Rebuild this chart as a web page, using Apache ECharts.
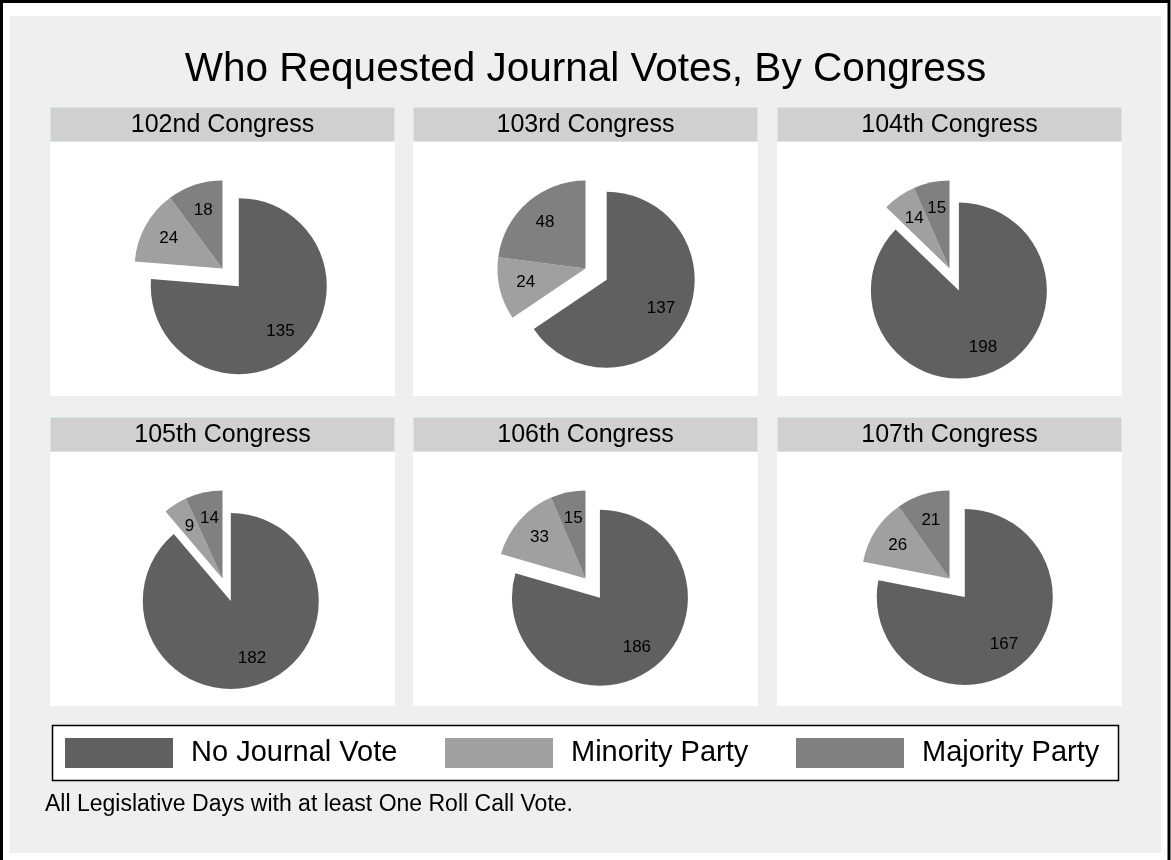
<!DOCTYPE html>
<html>
<head>
<meta charset="utf-8">
<script src="https://cdn.jsdelivr.net/npm/echarts@6/dist/echarts.min.js"></script>
<style>
  html, body { margin: 0; padding: 0; background: #fff; }
  #chart { width: 1171px; height: 860px; }
</style>
</head>
<body>
<div id="chart"></div>
<script>
// values, one entry per Congress
const congressNames = ['102nd Congress', '103rd Congress', '104th Congress', '105th Congress', '106th Congress', '107th Congress'];
const noJournalVote = [135, 137, 198, 182, 186, 167];
const minorityParty = [24, 24, 14, 9, 33, 26];
const majorityParty = [18, 48, 15, 14, 15, 21];
const sliceNames = ['No Journal Vote', 'Minority Party', 'Majority Party'];
const sliceColors = ['#606060', '#a0a0a0', '#808080'];

const FONT = '"Liberation Sans", Arial, Helvetica, sans-serif';

// panel grid
const panelLeft = [50, 413, 777];
const panelTop = [107, 417];
const panelW = 345;
const headH = 34;
const bodyH = 255;
const pieR = 88;

const chart = echarts.init(document.getElementById('chart'));

const graphics = [
    // outer frame + gray plot background
    { type: 'rect', z: 0, shape: { x: 1.5, y: 1.5, width: 1167.5, height: 900 }, style: { fill: '#fff', stroke: '#000', lineWidth: 3 } },
    { type: 'rect', z: 1, shape: { x: 10, y: 16, width: 1151, height: 837 }, style: { fill: '#efefef' } },
    {
        type: 'text', z: 5,
        style: { text: 'Who Requested Journal Votes, By Congress', x: 585.5, y: 70, textAlign: 'center', textVerticalAlign: 'middle', font: '40.5px ' + FONT, fill: '#000' },
    },
    // legend box
    { type: 'rect', z: 2, shape: { x: 52.5, y: 725.5, width: 1066, height: 55 }, style: { fill: '#fff', stroke: '#000', lineWidth: 1.5 } },
    {
        type: 'text', z: 5,
        style: { text: 'All Legislative Days with at least One Roll Call Vote.', x: 45, y: 805, textAlign: 'left', textVerticalAlign: 'middle', font: '23px ' + FONT, fill: '#000' },
    },
];

const series = [];

congressNames.forEach((name, i) => {
    const left = panelLeft[i % 3];
    const top = panelTop[Math.floor(i / 3)];
    graphics.push(
        { type: 'rect', z: 2, shape: { x: left, y: top + headH, width: panelW, height: bodyH }, style: { fill: '#fff' } },
        { type: 'rect', z: 2, shape: { x: left + 0.5, y: top + 0.5, width: panelW - 1, height: headH }, style: { fill: '#d0d0d0', stroke: '#d6e6ea', lineWidth: 1 } },
        {
            type: 'text', z: 5,
            style: { text: name, x: left + panelW / 2, y: top + headH / 2 + 1, textAlign: 'center', textVerticalAlign: 'middle', font: '25px ' + FONT, fill: '#000' },
        }
    );

    const values = [noJournalVote[i], minorityParty[i], majorityParty[i]];
    const center = [left + panelW / 2, top + headH + bodyH / 2];
    const pieData = values.map((v, k) => ({
        name: sliceNames[k],
        value: v,
        selected: k === 0, // "No Journal Vote" slice is pulled out
        itemStyle: { color: sliceColors[k] },
    }));

    // slices
    series.push({
        type: 'pie',
        center: center,
        radius: [0, pieR],
        startAngle: 90,
        clockwise: true,
        selectedMode: 'multiple',
        selectedOffset: 24,
        avoidLabelOverlap: false,
        label: { show: false },
        labelLine: { show: false },
        itemStyle: { borderWidth: 0 },
        emphasis: { disabled: true },
        data: pieData,
    });
    // transparent ring only to place the labels at ~2/3 of the radius
    series.push({
        type: 'pie',
        silent: true,
        center: center,
        radius: [29, pieR],
        startAngle: 90,
        clockwise: true,
        selectedMode: 'multiple',
        selectedOffset: 24,
        avoidLabelOverlap: false,
        label: {
            show: true,
            position: 'inside',
            formatter: '{c}',
            color: '#000',
            fontSize: 17,
            fontFamily: FONT,
        },
        labelLine: { show: false },
        itemStyle: { color: 'transparent', borderWidth: 0 },
        emphasis: { disabled: true },
        data: values.map((v, k) => ({ name: sliceNames[k], value: v, selected: k === 0, itemStyle: { color: 'transparent' } })),
    });
});

const legendLeft = [65, 445, 796];
const legends = sliceNames.map((n, k) => ({
    left: legendLeft[k],
    top: 738,
    padding: 0,
    icon: 'rect',
    itemWidth: 108,
    itemHeight: 30,
    selectedMode: false,
    textStyle: { fontSize: 29, fontFamily: FONT, color: '#000', padding: [0, 0, 0, 13] },
    data: [{ name: n, itemStyle: { color: sliceColors[k] } }],
}));

chart.setOption({
    animation: false,
    backgroundColor: '#fff',
    graphic: { elements: graphics },
    legend: legends,
    series: series,
});
</script>
</body>
</html>
